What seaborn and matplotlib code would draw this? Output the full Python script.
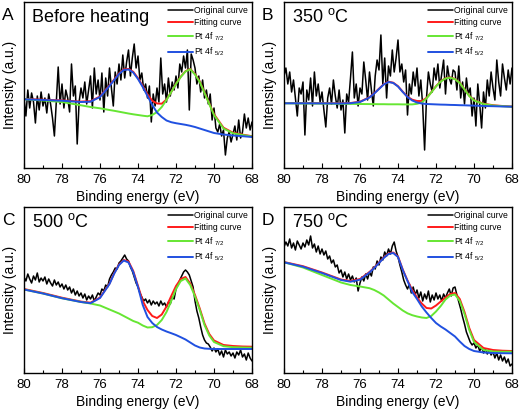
import numpy as np
import matplotlib
matplotlib.use('Agg')
import matplotlib.pyplot as plt
import seaborn as sns

sns.set_style('ticks', {'axes.edgecolor': 'black', 'xtick.color': 'black', 'ytick.color': 'black',
                        'text.color': 'black', 'axes.labelcolor': 'black'})
plt.rcParams['font.family'] = ['Liberation Sans', 'DejaVu Sans']
plt.rcParams['mathtext.fontset'] = 'custom'
plt.rcParams['mathtext.rm'] = 'Liberation Sans'
plt.rcParams['mathtext.default'] = 'regular'

# binding energy grid of the measured spectra (0.1 eV step)
energy = np.linspace(80, 68, 121)

fit_energy = [80, 79, 78, 77, 76.5, 76, 75.5, 75.25, 75, 74.75, 74.5, 74.25, 74, 73.75, 73.5, 73.25,
              73, 72.75, 72.5, 72.25, 72, 71.75, 71.5, 71.25, 71, 70.75, 70.5, 70.25, 70, 69.5, 69, 68.5, 68]

# A - before heating
raw_a = [70, 52, 78, 60, 75, 66, 45, 72, 58, 76,
         62, 70, 55, 74, 64, 50, 32, 66, 101, 64,
         84, 60, 78, 70, 56, 104, 72, 82, 24, 66,
         80, 70, 86, 64, 78, 92, 60, 100, 74, 88,
         68, 95, 56, 90, 72, 100, 80, 62, 96, 84,
         104, 88, 113, 90, 106, 118, 92, 110, 124, 100,
         112, 88, 95, 78, 84, 70, 82, 46, 74, 62,
         80, 66, 110, 74, 84, 66, 90, 72, 86, 78,
         92, 80, 104, 96, 112, 100, 118, 58, 114, 108,
         100, 84, 92, 76, 88, 70, 78, 64, 74, 48,
         60, 40, 36, 44, 32, 38, 13, 30, 36, 26,
         34, 42, 28, 48, 30, 36, 54, 40, 50, 38, 46]
fit_a = [69, 68.3, 67.6, 66.4, 66.8, 71.5, 82.6, 88.6, 94.6, 98.6, 99.1, 96.2, 89.8, 82, 73.5, 67.3,
         64.5, 64.3, 68.5, 76, 84.3, 91.3, 96.8, 99, 94, 86.5, 75.5, 64.5, 53.8, 40.3, 35.3, 33.4, 31.8]
pt72_a = [68.7, 67.5, 66, 62.7, 61, 59.7, 58, 57.2, 56.3, 55.4, 54.5, 53.7, 53, 52.3, 51.7, 53,
          56, 61, 68, 76, 84, 91, 96.5, 98.7, 93.5, 86, 75, 64, 53, 39.5, 34.7, 33, 31.5]
pt52_a = [68.7, 68, 67.3, 66, 66.3, 71, 82, 88, 94, 98, 98.5, 95.5, 89, 81, 72, 63,
          55.5, 51, 47.5, 45.8, 44.8, 44, 43.2, 42.2, 41, 39.5, 38, 36.5, 35, 33.5, 32.5, 31.8, 31]

# B - 350 C
raw_b = [92, 100, 84, 96, 76, 88, 70, 52, 80, 74,
         86, 33, 78, 68, 90, 62, 96, 72, 84, 66,
         76, 58, 41, 70, 80, 64, 88, 72, 60, 78,
         58, 68, 35, 74, 66, 90, 116, 70, 84, 62,
         80, 74, 106, 88, 68, 96, 78, 62, 92, 108,
         98, 133, 84, 110, 70, 102, 92, 118, 96, 110,
         128, 96, 104, 86, 98, 53, 84, 74, 96, 82,
         100, 72, 88, 62, 18, 70, 96, 84, 76, 100,
         88, 104, 80, 94, 108, 74, 102, 90, 84, 98,
         96, 78, 102, 70, 86, 64, 90, 74, 80, 52,
         70, 42, 84, 64, 40, 76, 60, 88, 72, 96,
         80, 68, 108, 86, 72, 104, 90, 78, 98, 84, 100]
fit_b = [64.9, 64.9, 64.8, 64.7, 65, 66.3, 70.8, 74.8, 79.3, 83.8, 86.3, 85.3, 81.8, 76.3, 71.3, 68.3,
         67, 67, 70, 75.8, 81.8, 86.8, 89.8, 90.6, 89.1, 85.3, 78.8, 72.3, 67.8, 64.3, 62.8, 62, 61.5]
pt72_b = [64.7, 64.5, 64.4, 64.2, 64.1, 64, 63.9, 63.9, 63.8, 63.8, 63.7, 63.7, 63.7, 63.6, 63.6, 63.6,
          64.2, 65.5, 69.5, 75.5, 81.5, 86.5, 89.5, 90.3, 88.8, 85, 78.5, 72, 67.5, 64, 62.5, 61.8, 61.3]
pt52_b = [64.7, 64.7, 64.6, 64.5, 64.8, 66, 70.5, 74.5, 79, 83.5, 86, 85, 81.5, 76, 71, 67.5,
          65.5, 64.5, 64, 63.8, 63.6, 63.4, 63.3, 63.1, 63, 62.8, 62.7, 62.5, 62.4, 62, 61.8, 61.5, 61.3]

# C - 500 C
raw_c = [96, 92, 99, 94, 90, 97, 93, 100, 91, 95,
         92, 96, 89, 94, 90, 87, 93, 88, 91, 86,
         89, 84, 88, 83, 86, 80, 84, 78, 82, 77,
         80, 75, 79, 73, 77, 74, 78, 72, 76, 80,
         78, 84, 82, 88, 86, 94, 98, 101, 105, 104,
         110, 112, 115, 118, 114, 112, 106, 102, 96, 90,
         86, 80, 76, 72, 74, 70, 73, 68, 72, 69,
         71, 67, 72, 68, 70, 66, 71, 69, 76, 74,
         84, 88, 93, 97, 101, 103, 101, 98, 92, 86,
         72, 62, 55, 46, 38, 33, 30, 29, 26, 22,
         25, 21, 24, 18, 22, 16, 23, 19, 21, 17,
         20, 15, 21, 18, 23, 16, 19, 13, 20, 15, 12]
fit_c = [84, 80, 75.3, 71.4, 70.3, 75.5, 89.5, 100, 108.5, 113, 111.5, 102, 87, 72, 63, 57,
         55, 58.5, 66.5, 77, 87, 94, 96, 89.5, 78, 64.5, 49.5, 39, 32.5, 28, 27, 26.5, 26.3]
pt72_c = [83.5, 79.5, 74.7, 71, 69.5, 67.5, 63.5, 61.5, 59.5, 57, 54.5, 52, 50.3, 47.5, 45.5, 45.8,
          48, 53, 61, 72, 84, 92, 94.5, 88, 76.5, 63, 48, 37.5, 31, 26.8, 25.8, 25.5, 25.3]
pt52_c = [83.5, 79.5, 74.8, 71, 69.8, 75, 89, 99.5, 108, 112.5, 110.5, 101, 86, 68, 56, 50,
          46, 43.5, 41.5, 39.8, 38, 35.8, 33.5, 30.5, 27.5, 25.5, 24.5, 24.2, 24, 24, 24, 24, 24]

# D - 750 C
raw_d = [126, 131, 127, 134, 125, 130, 123, 132, 128, 124,
         130, 126, 133, 128, 137, 125, 129, 121, 127, 119,
         124, 118, 122, 114, 117, 110, 113, 106, 108, 100,
         103, 96, 101, 94, 99, 93, 97, 91, 95, 82,
         90, 96, 92, 99, 94, 101, 97, 106, 104, 112,
         108, 116, 113, 121, 117, 124, 119, 127, 131, 122,
         116, 108, 101, 93, 88, 84, 89, 80, 86, 78,
         83, 75, 81, 72, 79, 74, 82, 71, 78, 73,
         80, 74, 78, 72, 79, 75, 80, 84, 77, 85,
         86, 78, 71, 64, 56, 49, 41, 36, 31, 28,
         30, 25, 28, 22, 26, 20, 24, 19, 23, 18,
         21, 15, 20, 13, 18, 12, 16, 10, 14, 7, 9]
fit_d = [111, 106.8, 100.5, 93.5, 92, 94, 101, 105.5, 110.5, 115.5, 119.5, 120.5, 116.5, 103.5, 92.5, 83,
         75.5, 69.5, 65, 64.5, 67.5, 71.5, 75.5, 79, 80, 74, 61, 45, 33, 25, 23, 22.3, 22]
pt72_d = [110.7, 105.5, 98, 90.5, 88, 86.5, 84.8, 83, 80.5, 77.5, 73.5, 69.5, 66, 62.5, 59.7, 57.8,
          56.5, 55.5, 55, 57, 61.5, 67, 73.5, 77.5, 78.5, 72, 59, 43, 31, 23, 21.5, 21.3, 21.3]
pt52_d = [110.7, 106.3, 100, 93, 91.3, 93.3, 100.5, 105, 110, 115, 119, 120, 116, 103, 92, 81,
          74, 66.5, 60.5, 55, 50, 46.5, 43.5, 40, 36.5, 31.5, 27, 24, 22, 20.5, 20, 19.8, 19.7]

letters = ['A', 'B', 'C', 'D']
titles = ['Before heating', r'350 $^{o}$C', r'500 $^{o}$C', r'750 $^{o}$C']
raws = [raw_a, raw_b, raw_c, raw_d]
fits = [fit_a, fit_b, fit_c, fit_d]
pt72s = [pt72_a, pt72_b, pt72_c, pt72_d]
pt52s = [pt52_a, pt52_b, pt52_c, pt52_d]

fig = plt.figure(figsize=(5.2, 4.09), dpi=100)
W, H = 520, 409
# axes frames in pixels: left, top, right, bottom
frames = [(24, 2, 252, 168), (284, 2, 512, 168), (24, 207, 252, 373), (284, 207, 512, 373)]

for i in range(4):
    l, t, r, b = frames[i]
    ax = fig.add_axes([l / W, 1 - b / H, (r - l) / W, (b - t) / H])
    sns.lineplot(x=energy, y=raws[i], color='black', lw=1.1, ax=ax, label='Original curve')
    sns.lineplot(x=fit_energy, y=fits[i], color='#ff1a1a', lw=1.4, ax=ax, label='Fitting curve')
    sns.lineplot(x=fit_energy, y=pt72s[i], color='#66e633', lw=1.4, ax=ax, label=r'Pt 4f $_{7/2}$')
    sns.lineplot(x=fit_energy, y=pt52s[i], color='#2050e0', lw=1.4, ax=ax, label=r'Pt 4f $_{5/2}$')

    ax.set_xlim(80, 68)
    ax.set_ylim(0, 166)
    ax.set_xticks(range(80, 67, -2))
    ax.set_xticks(range(79, 68, -2), minor=True)
    ax.set_yticks([])
    ax.tick_params(axis='x', which='major', direction='in', length=3.5, width=0.8, labelsize=9.5, pad=4)
    ax.tick_params(axis='x', which='minor', direction='in', length=2, width=0.8)
    for sp in ax.spines.values():
        sp.set_linewidth(1.0)
    ax.set_xlabel('Binding energy (eV)', fontsize=10, labelpad=3)
    ax.set_ylabel('Intensity (a.u.)', fontsize=10, labelpad=5)
    ax.text(0.035, 0.88, titles[i], transform=ax.transAxes, fontsize=13)
    ax.legend(loc='upper right', frameon=False, fontsize=6.2, handlelength=2.9, handletextpad=0.15,
              labelspacing=0.35, borderaxespad=0.3, borderpad=0.2)

    fig.text((l - 22) / W, 1 - (t + 18) / H, letters[i], fontsize=12.5)

plt.savefig('out.png', dpi=100)
